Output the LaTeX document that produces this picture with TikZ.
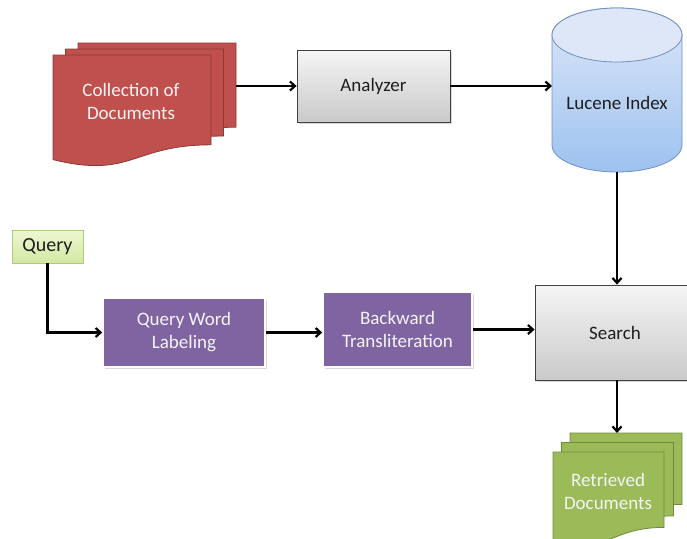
\documentclass[tikz,border=0pt]{standalone}
\usepackage{fontspec}
\setmainfont{Carlito}
\usetikzlibrary{arrows.meta,shadows}
\definecolor{docred}{HTML}{C0504D}
\definecolor{docredline}{HTML}{8C3836}
\definecolor{docgreen}{HTML}{9BBB59}
\definecolor{docgreenline}{HTML}{71893F}
\definecolor{purp}{HTML}{8064A2}
\definecolor{lighttext}{HTML}{F4F4F4}
\definecolor{darktext}{HTML}{1E1E1E}
\definecolor{cyltop}{HTML}{DDE7F8}
\definecolor{cylbot}{HTML}{9DC2EF}
\definecolor{cylline}{HTML}{6F8FC0}
\definecolor{qtop}{HTML}{EEF7D2}
\definecolor{qbot}{HTML}{D3E8A3}
\definecolor{qline}{HTML}{AECB78}
\newcommand\docpage[5]{%
  \path[#5] (#1,#2) -- ({#1+#3},#2) -- ({#1+#3},{#2+0.802*#4})
    .. controls ({#1+0.5*#3},{#2+0.802*#4}) and ({#1+0.5*#3},{#2+1.108*#4}) .. (#1,{#2+0.934*#4}) -- cycle;}
\begin{document}
\begin{tikzpicture}[x=1pt,y=-1pt,
  lbl/.style={font=\fontsize{19}{23}\selectfont, align=center},
  graybox/.style={lbl, draw=black!75, line width=0.8pt, top color=black!4, bottom color=black!21,
     inner sep=0pt, text=darktext, drop shadow={shadow xshift=1.5pt, shadow yshift=-1.5pt, opacity=0.3}},
  purpbox/.style={lbl, fill=purp, draw=white, line width=1.5pt, inner sep=0pt, text=lighttext,
     drop shadow={shadow xshift=1.5pt, shadow yshift=-1.5pt, opacity=0.3}},
  redpage/.style={fill=docred, draw=docredline, line width=0.8pt},
  greenpage/.style={fill=docgreen, draw=docgreenline, line width=0.8pt},
  arr/.style={line width=2.2pt, -{Straight Barb[length=5pt,width=9pt]}}
]
\useasboundingbox (0,0) rectangle (687,538);

% Collection of documents
\docpage{78}{43}{158}{105}{redpage}
\docpage{65.5}{49}{158}{108.5}{redpage}
\docpage{53}{55}{158}{112}{redpage}
\node[lbl, text=lighttext] (coll) at (131,101) {Collection of\\Documents};
\coordinate (collout) at (236,86);

% Analyzer
\node[graybox, minimum width=153pt, minimum height=72pt] (analyzer) at (373.5,86) {Analyzer};

% Lucene index cylinder
\path[top color=cyltop, bottom color=cylbot, draw=cylline, line width=0.8pt]
  (552,35) -- (552,145) arc[start angle=180, end angle=0, x radius=65, y radius=27]
  -- (682,35) arc[start angle=0, end angle=-180, x radius=65, y radius=27] -- cycle;
\draw[fill=cyltop, draw=cylline, line width=0.8pt] (617,35) ellipse[x radius=65, y radius=27];
\node[lbl, text=darktext] (lucene) at (617,103) {Lucene Index};
\coordinate (lucin) at (552,86);
\coordinate (lucout) at (617,172);

% Query
\node[lbl, font=\fontsize{20}{24}\selectfont, draw=qline, line width=0.8pt,
  top color=qtop, bottom color=qbot, minimum width=71pt, minimum height=33pt,
  inner sep=0pt, text=darktext] (query) at (47.5,246.5) {Query};

% Purple boxes
\node[purpbox, minimum width=162pt, minimum height=69pt] (qwl) at (184,332.5) {Query Word\\Labeling};
\node[purpbox, minimum width=149pt, minimum height=75pt] (bt) at (397.5,329.5) {Backward\\Transliteration};

% Search (extends past the right edge)
\node[graybox, minimum width=160pt, minimum height=95pt] (search) at (615,332.5) {Search};

% Retrieved documents
\docpage{570}{433}{112}{89}{greenpage}
\docpage{561.5}{442.5}{112}{91.5}{greenpage}
\docpage{553}{452}{111}{94}{greenpage}
\node[lbl, text=lighttext] (retr) at (608,491) {Retrieved\\Documents};
\coordinate (retrin) at (617,433);

% Connectors
\draw[arr] (collout) -- (analyzer.west);
\draw[arr] (analyzer.east) -- (lucin);
\draw[arr] (lucout) -- (lucout |- search.north);
\draw[arr] (query.south) |- (qwl.west);
\draw[arr] (qwl.east) -- (qwl.east -| bt.west);
\draw[arr] (bt.east) -- (bt.east -| search.west);
\draw[arr] (search.south -| retrin) -- (retrin);
\end{tikzpicture}
\end{document}
